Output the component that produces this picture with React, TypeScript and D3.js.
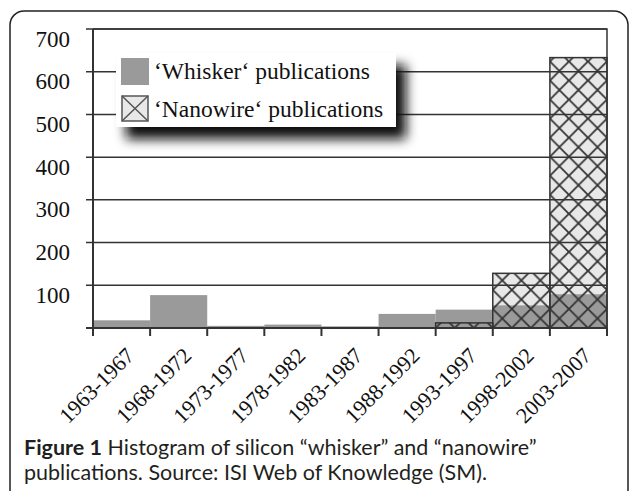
import React, { useEffect, useRef } from 'react';
import * as d3 from 'd3';

const categories = [
  '1963-1967', '1968-1972', '1973-1977', '1978-1982', '1983-1987',
  '1988-1992', '1993-1997', '1998-2002', '2003-2007',
];
const whisker = [18, 77, 5, 8, 4, 33, 43, 53, 79];
const nanowire = [0, 0, 0, 0, 0, 0, 12, 128, 633];
const yTicks = [100, 200, 300, 400, 500, 600, 700];

const W = 629;
const H = 491;

const App: React.FC = () => {
  const svgRef = useRef<SVGSVGElement>(null);

  useEffect(() => {
    if (!svgRef.current) return;
    const svg = d3.select(svgRef.current);
    svg.selectAll('*').remove();

    const left = 93, right = 607, top = 29, bottom = 328;
    const ink = '#333';

    const x = d3.scaleBand<string>().domain(categories).range([left, right]).padding(0);
    const y = d3.scaleLinear().domain([0, 700]).range([bottom, top]);
    const bw = x.bandwidth();
    const s = bw / 3;

    const defs = svg.append('defs');
    const pat = defs.append('pattern')
      .attr('id', 'xhatch')
      .attr('patternUnits', 'userSpaceOnUse')
      .attr('x', left).attr('y', bottom)
      .attr('width', s).attr('height', s);
    let d = '';
    [-s, 0, s].forEach(k => {
      d += `M${k},0L${k + s},${s}`;
      d += `M${k + s},0L${k},${s}`;
    });
    pat.append('path').attr('d', d).attr('stroke', '#333').attr('stroke-width', 1.8).attr('fill', 'none');

    const blur = defs.append('filter').attr('id', 'shadow')
      .attr('x', '-30%').attr('y', '-50%').attr('width', '160%').attr('height', '220%');
    blur.append('feGaussianBlur').attr('stdDeviation', 6);

    // outer frame
    svg.append('rect')
      .attr('x', 10).attr('y', 11).attr('width', 618).attr('height', 492)
      .attr('rx', 14).attr('fill', 'none').attr('stroke', '#222').attr('stroke-width', 1.5);

    // nanowire fill
    const nano = categories.map((c, i) => ({ c, v: nanowire[i] })).filter(p => p.v > 0);
    svg.append('g').selectAll('rect').data(nano).join('rect')
      .attr('x', p => x(p.c)!).attr('width', bw)
      .attr('y', p => y(p.v)).attr('height', p => y(0) - y(p.v))
      .attr('fill', '#e8e8e8');

    // whisker bars
    svg.append('g').selectAll('rect').data(categories).join('rect')
      .attr('x', c => x(c)!).attr('width', bw)
      .attr('y', (c, i) => y(whisker[i])).attr('height', (c, i) => y(0) - y(whisker[i]))
      .attr('fill', '#9a9a9a');

    // nanowire hatch + outline
    svg.append('g').selectAll('rect').data(nano).join('rect')
      .attr('x', p => x(p.c)!).attr('width', bw)
      .attr('y', p => y(p.v)).attr('height', p => y(0) - y(p.v))
      .attr('fill', 'url(#xhatch)')
      .attr('stroke', ink).attr('stroke-width', 1.5);

    // gridlines
    svg.append('g').selectAll('line').data(yTicks).join('line')
      .attr('x1', left - 7).attr('x2', right)
      .attr('y1', v => y(v)).attr('y2', v => y(v))
      .attr('stroke', ink).attr('stroke-width', 1.5);

    // axes frame
    svg.append('path')
      .attr('d', `M${left},${top}H${right}V${bottom}`)
      .attr('fill', 'none').attr('stroke', ink).attr('stroke-width', 1.5);
    svg.append('line')
      .attr('x1', left).attr('x2', left).attr('y1', top).attr('y2', bottom + 8)
      .attr('stroke', ink).attr('stroke-width', 2);
    svg.append('line')
      .attr('x1', left - 7).attr('x2', right).attr('y1', bottom).attr('y2', bottom)
      .attr('stroke', ink).attr('stroke-width', 2);
    const edges = categories.map(c => x(c)! + bw);
    svg.append('g').selectAll('line').data(edges).join('line')
      .attr('x1', e => e).attr('x2', e => e).attr('y1', bottom).attr('y2', bottom + 8)
      .attr('stroke', ink).attr('stroke-width', 2);

    // y labels
    svg.append('g').selectAll('text').data(yTicks).join('text')
      .attr('x', 70).attr('y', v => y(v) + 17.5)
      .attr('text-anchor', 'end')
      .attr('font-family', '"Liberation Serif", serif').attr('font-size', 23)
      .attr('fill', '#111')
      .text(v => v);

    // x labels
    svg.append('g').selectAll('text').data(categories).join('text')
      .attr('transform', c => `translate(${x(c)! + bw / 2 + 14},${bottom + 29}) rotate(-45)`)
      .attr('text-anchor', 'end')
      .attr('font-family', '"Liberation Serif", serif').attr('font-size', 22)
      .attr('fill', '#111')
      .text(c => c);

    // legend
    const lg = svg.append('g');
    lg.append('rect')
      .attr('x', 126).attr('y', 65).attr('width', 280).attr('height', 74)
      .attr('fill', '#111').attr('filter', 'url(#shadow)');
    lg.append('rect')
      .attr('x', 116).attr('y', 53).attr('width', 280).attr('height', 74)
      .attr('fill', '#fff');
    lg.append('rect')
      .attr('x', 121).attr('y', 58).attr('width', 28).attr('height', 27)
      .attr('fill', '#9a9a9a');
    lg.append('rect')
      .attr('x', 122).attr('y', 96).attr('width', 26).attr('height', 25)
      .attr('fill', '#e8e8e8').attr('stroke', '#555').attr('stroke-width', 1.5);
    lg.append('path')
      .attr('d', 'M122,96L148,121M148,96L122,121')
      .attr('stroke', '#555').attr('stroke-width', 1.5);
    const legendText = ['\u2018Whisker\u2018 publications', '\u2018Nanowire\u2018 publications'];
    lg.selectAll('text.lt').data(legendText).join('text')
      .attr('class', 'lt')
      .attr('x', 154).attr('y', (t, i) => 79 + i * 38)
      .attr('font-family', '"Liberation Serif", serif').attr('font-size', 23.5)
      .attr('fill', '#111')
      .text(t => t);

    // caption
    const cap = svg.append('g')
      .attr('font-family', 'Lato, "Open Sans", sans-serif').attr('font-size', 21.5).attr('fill', '#231f20');
    const l1 = cap.append('text').attr('x', 24).attr('y', 455);
    l1.append('tspan').attr('font-weight', 'bold').text('Figure 1');
    l1.append('tspan').text(' Histogram of silicon \u201cwhisker\u201d and \u201cnanowire\u201d');
    cap.append('text').attr('x', 24).attr('y', 480)
      .text('publications. Source: ISI Web of Knowledge (SM).');
  }, []);

  return (
    <svg ref={svgRef} width={W} height={H} style={{ position: 'absolute', left: 0, top: 0, background: '#fff' }} />
  );
};

export default App;
